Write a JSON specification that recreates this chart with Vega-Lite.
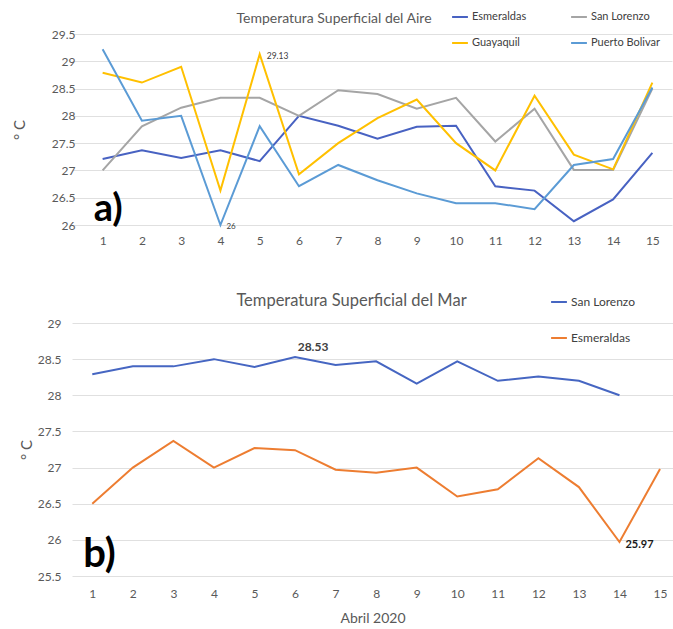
{
  "$schema": "https://vega.github.io/schema/vega-lite/v6.json",
  "background": "white",
  "padding": {"left": 12, "top": 8, "right": 0, "bottom": 0},
  "spacing": 46,
  "config": {
    "font": "Lato",
    "view": {"stroke": null},
    "axis": {
      "labelColor": "#595959",
      "labelFontSize": 12,
      "labelOverlap": false,
      "titleColor": "#595959",
      "titleFontWeight": "normal",
      "gridColor": "#e0e0e0",
      "gridWidth": 1,
      "domain": false,
      "ticks": false
    },
    "legend": {
      "labelColor": "#404040",
      "labelFontSize": 11,
      "symbolType": "stroke",
      "symbolSize": 250,
      "symbolStrokeWidth": 2,
      "labelOffset": 3,
      "padding": 0
    }
  },
  "datasets": {
    "aire": [
      {"dia": 1, "estacion": "Esmeraldas", "temp": 27.21},
      {"dia": 2, "estacion": "Esmeraldas", "temp": 27.37},
      {"dia": 3, "estacion": "Esmeraldas", "temp": 27.23},
      {"dia": 4, "estacion": "Esmeraldas", "temp": 27.37},
      {"dia": 5, "estacion": "Esmeraldas", "temp": 27.17},
      {"dia": 6, "estacion": "Esmeraldas", "temp": 28.0},
      {"dia": 7, "estacion": "Esmeraldas", "temp": 27.82},
      {"dia": 8, "estacion": "Esmeraldas", "temp": 27.58},
      {"dia": 9, "estacion": "Esmeraldas", "temp": 27.8},
      {"dia": 10, "estacion": "Esmeraldas", "temp": 27.82},
      {"dia": 11, "estacion": "Esmeraldas", "temp": 26.71},
      {"dia": 12, "estacion": "Esmeraldas", "temp": 26.63},
      {"dia": 13, "estacion": "Esmeraldas", "temp": 26.07},
      {"dia": 14, "estacion": "Esmeraldas", "temp": 26.47},
      {"dia": 15, "estacion": "Esmeraldas", "temp": 27.32},
      {"dia": 1, "estacion": "San Lorenzo", "temp": 27.0},
      {"dia": 2, "estacion": "San Lorenzo", "temp": 27.81},
      {"dia": 3, "estacion": "San Lorenzo", "temp": 28.15},
      {"dia": 4, "estacion": "San Lorenzo", "temp": 28.33},
      {"dia": 5, "estacion": "San Lorenzo", "temp": 28.33},
      {"dia": 6, "estacion": "San Lorenzo", "temp": 28.0},
      {"dia": 7, "estacion": "San Lorenzo", "temp": 28.47},
      {"dia": 8, "estacion": "San Lorenzo", "temp": 28.4},
      {"dia": 9, "estacion": "San Lorenzo", "temp": 28.13},
      {"dia": 10, "estacion": "San Lorenzo", "temp": 28.33},
      {"dia": 11, "estacion": "San Lorenzo", "temp": 27.53},
      {"dia": 12, "estacion": "San Lorenzo", "temp": 28.13},
      {"dia": 13, "estacion": "San Lorenzo", "temp": 27.01},
      {"dia": 14, "estacion": "San Lorenzo", "temp": 27.01},
      {"dia": 15, "estacion": "San Lorenzo", "temp": 28.5},
      {"dia": 1, "estacion": "Guayaquil", "temp": 28.79},
      {"dia": 2, "estacion": "Guayaquil", "temp": 28.61},
      {"dia": 3, "estacion": "Guayaquil", "temp": 28.9},
      {"dia": 4, "estacion": "Guayaquil", "temp": 26.63},
      {"dia": 5, "estacion": "Guayaquil", "temp": 29.13},
      {"dia": 6, "estacion": "Guayaquil", "temp": 26.93},
      {"dia": 7, "estacion": "Guayaquil", "temp": 27.5},
      {"dia": 8, "estacion": "Guayaquil", "temp": 27.96},
      {"dia": 9, "estacion": "Guayaquil", "temp": 28.3},
      {"dia": 10, "estacion": "Guayaquil", "temp": 27.5},
      {"dia": 11, "estacion": "Guayaquil", "temp": 27.0},
      {"dia": 12, "estacion": "Guayaquil", "temp": 28.37},
      {"dia": 13, "estacion": "Guayaquil", "temp": 27.29},
      {"dia": 14, "estacion": "Guayaquil", "temp": 27.02},
      {"dia": 15, "estacion": "Guayaquil", "temp": 28.61},
      {"dia": 1, "estacion": "Puerto Bolivar", "temp": 29.22},
      {"dia": 2, "estacion": "Puerto Bolivar", "temp": 27.91},
      {"dia": 3, "estacion": "Puerto Bolivar", "temp": 28.0},
      {"dia": 4, "estacion": "Puerto Bolivar", "temp": 26.0},
      {"dia": 5, "estacion": "Puerto Bolivar", "temp": 27.81},
      {"dia": 6, "estacion": "Puerto Bolivar", "temp": 26.71},
      {"dia": 7, "estacion": "Puerto Bolivar", "temp": 27.1},
      {"dia": 8, "estacion": "Puerto Bolivar", "temp": 26.82},
      {"dia": 9, "estacion": "Puerto Bolivar", "temp": 26.58},
      {"dia": 10, "estacion": "Puerto Bolivar", "temp": 26.4},
      {"dia": 11, "estacion": "Puerto Bolivar", "temp": 26.4},
      {"dia": 12, "estacion": "Puerto Bolivar", "temp": 26.29},
      {"dia": 13, "estacion": "Puerto Bolivar", "temp": 27.1},
      {"dia": 14, "estacion": "Puerto Bolivar", "temp": 27.21},
      {"dia": 15, "estacion": "Puerto Bolivar", "temp": 28.52}
    ],
    "mar": [
      {"dia": 1, "sitio": "San Lorenzo", "temp": 28.29},
      {"dia": 2, "sitio": "San Lorenzo", "temp": 28.4},
      {"dia": 3, "sitio": "San Lorenzo", "temp": 28.4},
      {"dia": 4, "sitio": "San Lorenzo", "temp": 28.5},
      {"dia": 5, "sitio": "San Lorenzo", "temp": 28.39},
      {"dia": 6, "sitio": "San Lorenzo", "temp": 28.53},
      {"dia": 7, "sitio": "San Lorenzo", "temp": 28.42},
      {"dia": 8, "sitio": "San Lorenzo", "temp": 28.47},
      {"dia": 9, "sitio": "San Lorenzo", "temp": 28.16},
      {"dia": 10, "sitio": "San Lorenzo", "temp": 28.47},
      {"dia": 11, "sitio": "San Lorenzo", "temp": 28.2},
      {"dia": 12, "sitio": "San Lorenzo", "temp": 28.26},
      {"dia": 13, "sitio": "San Lorenzo", "temp": 28.2},
      {"dia": 14, "sitio": "San Lorenzo", "temp": 28.0},
      {"dia": 1, "sitio": "Esmeraldas", "temp": 26.5},
      {"dia": 2, "sitio": "Esmeraldas", "temp": 27.0},
      {"dia": 3, "sitio": "Esmeraldas", "temp": 27.37},
      {"dia": 4, "sitio": "Esmeraldas", "temp": 27.0},
      {"dia": 5, "sitio": "Esmeraldas", "temp": 27.27},
      {"dia": 6, "sitio": "Esmeraldas", "temp": 27.24},
      {"dia": 7, "sitio": "Esmeraldas", "temp": 26.97},
      {"dia": 8, "sitio": "Esmeraldas", "temp": 26.93},
      {"dia": 9, "sitio": "Esmeraldas", "temp": 27.0},
      {"dia": 10, "sitio": "Esmeraldas", "temp": 26.6},
      {"dia": 11, "sitio": "Esmeraldas", "temp": 26.7},
      {"dia": 12, "sitio": "Esmeraldas", "temp": 27.13},
      {"dia": 13, "sitio": "Esmeraldas", "temp": 26.73},
      {"dia": 14, "sitio": "Esmeraldas", "temp": 25.97},
      {"dia": 15, "sitio": "Esmeraldas", "temp": 26.98}
    ]
  },
  "resolve": {
    "scale": {"x": "independent", "y": "independent", "color": "independent"},
    "legend": {"color": "independent"}
  },
  "vconcat": [
    {
      "width": 600,
      "height": 191,
      "title": {
        "text": "Temperatura Superficial del Aire",
        "fontSize": 14,
        "fontWeight": "normal",
        "color": "#595959",
        "anchor": "middle",
        "frame": "group",
        "baseline": "bottom",
        "dx": -38,
        "offset": -32
      },
      "data": {"name": "aire"},
      "encoding": {
        "x": {
          "field": "dia",
          "type": "quantitative",
          "scale": {"domain": [0.22, 15.5], "nice": false, "zero": false},
          "axis": {"values": [1,2,3,4,5,6,7,8,9,10,11,12,13,14,15], "format": "d", "title": null, "grid": false, "labelPadding": 10}
        },
        "y": {
          "field": "temp",
          "type": "quantitative",
          "scale": {"domain": [26, 29.5], "nice": false, "zero": false},
          "axis": {"values": [26, 26.5, 27, 27.5, 28, 28.5, 29, 29.5], "format": "~g", "title": "° C", "titleFontSize": 15, "titleX": -56, "labelPadding": 8, "offset": -11}
        }
      },
      "layer": [
        {
          "mark": {"type": "line", "strokeWidth": 2},
          "encoding": {
            "color": {
              "field": "estacion",
              "type": "nominal",
              "scale": {
                "domain": ["Esmeraldas", "Guayaquil", "San Lorenzo", "Puerto Bolivar"],
                "range": ["#4862c2", "#ffc000", "#a5a5a5", "#5b9bd5"]
              },
              "legend": {
                "title": null,
                "orient": "none",
                "legendX": 379,
                "legendY": -26,
                "columns": 2,
                "columnPadding": 40,
                "rowPadding": 12
              }
            }
          }
        },
        {
          "transform": [{"filter": "datum.estacion == 'Guayaquil' && datum.dia == 5"}],
          "mark": {"type": "text", "align": "left", "dx": 7, "dy": 2, "fontSize": 8.5, "color": "#404040"},
          "encoding": {
            "text": {"field": "temp", "type": "quantitative", "format": ".2f"}
          }
        },
        {
          "transform": [{"filter": "datum.estacion == 'Puerto Bolivar' && datum.dia == 4"}],
          "mark": {"type": "text", "align": "left", "dx": 6, "dy": 2, "fontSize": 8, "color": "#404040"},
          "encoding": {
            "text": {"field": "temp", "type": "quantitative", "format": "~g"}
          }
        },
        {
          "transform": [{"filter": "datum.estacion == 'Puerto Bolivar' && datum.dia == 1"}],
          "mark": {"type": "text", "align": "left", "baseline": "alphabetic", "dx": -9, "fontSize": 38, "fontWeight": "bold", "color": "#000000"},
          "encoding": {
            "y": {
              "datum": 26.08,
              "type": "quantitative",
              "scale": {"domain": [26, 29.5], "nice": false, "zero": false},
              "axis": {"values": [26, 26.5, 27, 27.5, 28, 28.5, 29, 29.5], "format": "~g", "title": "° C", "titleFontSize": 15, "titleX": -56, "labelPadding": 8, "offset": -11}
            },
            "text": {"value": "a)"}
          }
        }
      ]
    },
    {
      "width": 601,
      "height": 253,
      "title": {
        "text": "Temperatura Superficial del Mar",
        "fontSize": 16.5,
        "fontWeight": "normal",
        "color": "#595959",
        "anchor": "middle",
        "frame": "group",
        "baseline": "bottom",
        "dx": -21,
        "offset": -32
      },
      "data": {"name": "mar"},
      "encoding": {
        "x": {
          "field": "dia",
          "type": "quantitative",
          "scale": {"domain": [0.5, 15.32], "nice": false, "zero": false},
          "axis": {"values": [1,2,3,4,5,6,7,8,9,10,11,12,13,14,15], "format": "d", "title": "Abril 2020", "titleFontSize": 14, "titlePadding": 12, "grid": false, "labelPadding": 12}
        },
        "y": {
          "field": "temp",
          "type": "quantitative",
          "scale": {"domain": [25.5, 29], "nice": false, "zero": false},
          "axis": {"values": [25.5, 26, 26.5, 27, 27.5, 28, 28.5, 29], "format": "~g", "title": "° C", "titleFontSize": 15, "titleX": -38, "labelPadding": 11}
        }
      },
      "layer": [
        {
          "mark": {"type": "line", "strokeWidth": 2},
          "encoding": {
            "color": {
              "field": "sitio",
              "type": "nominal",
              "scale": {
                "domain": ["San Lorenzo", "Esmeraldas"],
                "range": ["#4666c2", "#ed7d31"]
              },
              "legend": {
                "title": null,
                "orient": "none",
                "legendX": 478,
                "legendY": -30,
                "rowPadding": 21,
                "labelFontSize": 12
              }
            }
          }
        },
        {
          "transform": [{"filter": "datum.sitio == 'San Lorenzo' && datum.dia == 6"}],
          "mark": {"type": "text", "align": "center", "baseline": "bottom", "dy": -3, "dx": 18, "fontSize": 12, "fontWeight": "bold", "color": "#404040"},
          "encoding": {
            "text": {"field": "temp", "type": "quantitative", "format": ".2f"}
          }
        },
        {
          "transform": [{"filter": "datum.sitio == 'Esmeraldas' && datum.dia == 14"}],
          "mark": {"type": "text", "align": "left", "dx": 6, "dy": 3, "fontSize": 11, "fontWeight": "bold", "color": "#1a1a1a"},
          "encoding": {
            "text": {"field": "temp", "type": "quantitative", "format": ".2f"}
          }
        },
        {
          "transform": [{"filter": "datum.sitio == 'Esmeraldas' && datum.dia == 1"}],
          "mark": {"type": "text", "align": "left", "baseline": "alphabetic", "dx": -9, "fontSize": 40, "fontWeight": "bold", "color": "#000000"},
          "encoding": {
            "y": {
              "datum": 25.63,
              "type": "quantitative",
              "scale": {"domain": [25.5, 29], "nice": false, "zero": false},
              "axis": {"values": [25.5, 26, 26.5, 27, 27.5, 28, 28.5, 29], "format": "~g", "title": "° C", "titleFontSize": 15, "titleX": -38, "labelPadding": 11}
            },
            "text": {"value": "b)"}
          }
        }
      ]
    }
  ]
}
